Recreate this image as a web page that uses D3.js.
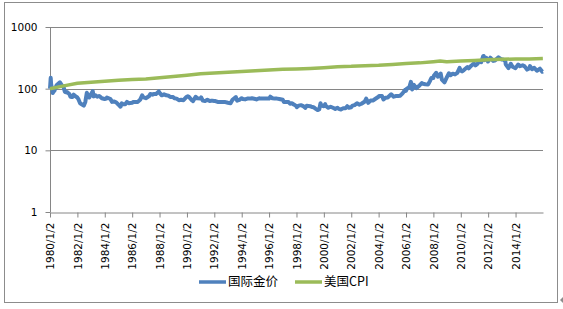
<!DOCTYPE html>
<html>
<head>
<meta charset="utf-8">
<script src="https://cdn.jsdelivr.net/npm/d3@7"></script>
<style>
  body { margin: 0; background: #fff; }
  .chart text { font-family: "DejaVu Sans", sans-serif; }
</style>
</head>
<body>
<div class="chart"></div>
<script>
// gold price index (1980/1/2 = 100)
var gold = [
  ["1980-01-02",100],["1980-01-21",150],["1980-02-01",118],["1980-03-18",85],["1980-04-01",89],["1980-05-01",93],
  ["1980-06-01",105],["1980-07-01",115],["1980-09-22",127],["1980-10-15",120],["1980-12-01",110],["1980-12-31",105],
  ["1981-02-01",89],["1981-03-15",87],["1981-04-01",88],["1981-06-01",82],["1981-07-01",74],["1981-08-15",73],
  ["1981-09-25",80],["1981-11-01",76],["1981-12-31",72],
  ["1982-02-01",67],["1982-03-15",58],["1982-06-21",53],["1982-08-01",61],["1982-09-10",86],["1982-10-15",76],
  ["1982-11-15",72],["1982-12-31",81],
  ["1983-02-15",91],["1983-03-10",75],["1983-05-01",78],["1983-06-15",74],["1983-08-01",76],["1983-09-01",74],
  ["1983-10-15",70],["1983-12-31",68],
  ["1984-02-15",69],["1984-03-01",72],["1984-06-01",68],["1984-07-15",61],["1984-09-01",62],["1984-11-01",60],
  ["1984-12-31",55],
  ["1985-02-25",51],["1985-04-01",58],["1985-05-01",56],["1985-07-01",56],["1985-08-15",61],["1985-10-01",58],
  ["1985-12-31",59],
  ["1986-02-01",61],["1986-04-01",61],["1986-06-01",61],["1986-08-01",66],["1986-09-25",78],["1986-11-01",72],
  ["1986-12-31",70],
  ["1987-02-01",72],["1987-04-01",76],["1987-05-01",82],["1987-07-01",80],["1987-08-15",82],["1987-10-01",82],
  ["1987-12-14",90],
  ["1988-01-15",84],["1988-03-01",78],["1988-05-01",81],["1988-07-01",78],["1988-09-01",77],["1988-10-15",73],
  ["1988-12-31",73],
  ["1989-02-01",70],["1989-04-01",69],["1989-06-01",65],["1989-08-01",66],["1989-10-01",65],["1989-12-15",73],
  ["1990-01-25",75],["1990-03-01",73],["1990-05-01",66],["1990-06-15",63],["1990-08-22",74],["1990-10-01",70],
  ["1990-12-31",69],
  ["1991-01-17",72],["1991-03-01",64],["1991-05-01",63],["1991-07-01",66],["1991-09-01",63],["1991-11-01",64],
  ["1991-12-31",63],
  ["1992-02-01",63],["1992-04-01",61],["1992-06-01",61],["1992-08-01",61],["1992-10-01",61],["1992-12-31",59],
  ["1993-03-10",58],["1993-05-01",66],["1993-07-30",73],["1993-09-01",64],["1993-11-01",66],["1993-12-31",70],
  ["1994-02-01",68],["1994-04-01",67],["1994-06-01",69],["1994-08-01",69],["1994-10-01",70],["1994-12-31",68],
  ["1995-02-01",67],["1995-04-15",70],["1995-06-01",69],["1995-08-01",69],["1995-10-01",69],["1995-12-31",69],
  ["1996-02-02",74],["1996-04-01",70],["1996-06-01",69],["1996-08-01",69],["1996-10-01",68],["1996-12-31",66],
  ["1997-02-01",61],["1997-04-01",61],["1997-06-01",61],["1997-07-15",57],["1997-09-01",58],["1997-11-01",55],
  ["1997-12-31",52],
  ["1998-01-09",50],["1998-03-01",53],["1998-05-01",54],["1998-07-01",52],["1998-08-28",49],["1998-10-01",53],
  ["1998-12-31",52],
  ["1999-02-01",51],["1999-04-01",50],["1999-06-01",47],["1999-07-20",45],["1999-09-01",46],["1999-10-05",58],
  ["1999-11-01",53],["1999-12-31",52],
  ["2000-02-07",56],["2000-03-01",52],["2000-05-01",49],["2000-07-01",51],["2000-09-01",49],["2000-11-01",47],
  ["2000-12-31",49],
  ["2001-02-01",47],["2001-04-02",46],["2001-06-01",48],["2001-08-01",48],["2001-09-17",52],["2001-11-01",49],
  ["2001-12-31",50],
  ["2002-02-05",53],["2002-04-01",54],["2002-06-04",58],["2002-08-01",55],["2002-10-01",57],["2002-12-31",62],
  ["2003-02-05",69],["2003-04-01",59],["2003-06-01",64],["2003-08-01",64],["2003-10-01",68],["2003-12-31",74],
  ["2004-01-15",76],["2004-04-01",76],["2004-05-10",67],["2004-07-01",71],["2004-09-01",72],["2004-12-01",81],
  ["2004-12-31",78],
  ["2005-02-08",74],["2005-04-01",76],["2005-06-01",76],["2005-08-01",77],["2005-10-01",84],["2005-12-12",96],
  ["2005-12-30",92],
  ["2006-02-01",101],["2006-04-01",106],["2006-05-12",129],["2006-06-14",97],["2006-08-01",115],["2006-10-05",102],
  ["2006-12-29",113],
  ["2007-02-26",123],["2007-04-01",120],["2007-06-01",118],["2007-08-16",117],["2007-10-01",133],["2007-11-08",149],
  ["2007-12-31",149],
  ["2008-01-15",162],["2008-03-17",181],["2008-05-01",156],["2008-07-15",176],["2008-08-15",140],["2008-10-24",127],
  ["2008-12-31",155],
  ["2009-02-20",178],["2009-04-01",165],["2009-06-01",175],["2009-08-01",170],["2009-10-01",180],["2009-12-02",217],
  ["2009-12-31",197],
  ["2010-02-05",190],["2010-04-01",202],["2010-06-28",224],["2010-08-01",213],["2010-10-01",234],["2010-12-07",254],
  ["2010-12-31",252],
  ["2011-01-28",238],["2011-04-01",257],["2011-05-02",280],["2011-07-01",268],["2011-08-22",337],["2011-09-05",339],
  ["2011-09-26",290],["2011-11-08",317],["2011-12-29",276],
  ["2012-02-28",318],["2012-05-16",282],["2012-07-01",286],["2012-10-04",322],["2012-12-31",296],
  ["2013-02-01",298],["2013-04-01",285],["2013-04-15",248],["2013-06-27",215],["2013-08-28",253],["2013-10-15",227],
  ["2013-12-31",215],
  ["2014-03-14",246],["2014-05-01",232],["2014-07-10",239],["2014-09-01",230],["2014-11-05",204],["2014-12-31",213],
  ["2015-01-22",232],["2015-03-17",207],["2015-05-15",218],["2015-07-24",195],["2015-10-14",211],["2015-12-17",188],
  ["2015-12-31",190]
];

// US CPI index (1980/1/2 = 100)
var cpi = [
  ["1980-01-02",100],["1981-01-02",111],["1982-01-02",122],["1983-01-02",127],["1984-01-02",132],["1985-01-02",137],
  ["1986-01-02",141],["1987-01-02",144],["1988-01-02",150],["1989-01-02",157],["1990-01-02",165],["1991-01-02",175],
  ["1992-01-02",179],["1993-01-02",185],["1994-01-02",190],["1995-01-02",195],["1996-01-02",200],["1997-01-02",206],
  ["1998-01-02",209],["1999-01-02",213],["2000-01-02",219],["2001-01-02",227],["2002-01-02",230],["2003-01-02",236],
  ["2004-01-02",240],["2005-01-02",247],["2006-01-02",257],["2007-01-02",262],["2008-01-02",273],["2008-07-01",280],
  ["2008-12-15",273],["2009-01-02",274],["2010-01-02",281],["2011-01-02",286],["2012-01-02",294],["2013-01-02",299],
  ["2014-01-02",304],["2015-01-02",303],["2015-12-31",308]
];

var yTicks = [1, 10, 100, 1000];
var tickYears = d3.range(1980, 2015, 2);
var seriesNames = ["国际金价", "美国CPI"];
var seriesColors = ["#4f81bd", "#9bbb59"];

var svgWidth = 563;
var svgHeight = 309;
var margin = {top: 27, right: 20, bottom: 97, left: 50};
var width = svgWidth - margin.left - margin.right;
var height = svgHeight - margin.top - margin.bottom;

var parse = d3.timeParse("%Y-%m-%d");

var svg = d3.select(".chart")
    .append("svg")
    .attr("width", svgWidth)
    .attr("height", svgHeight);

// outer frame
svg.append("rect")
    .attr("x", 4.5).attr("y", 2.5)
    .attr("width", 553).attr("height", 300)
    .attr("fill", "#fff")
    .attr("stroke", "#8c8c8c");
// little resize marker at the corner
svg.append("path")
    .attr("d", "M563,297L560,300L563,303Z")
    .attr("fill", "#8c8c8c");

var chart = svg.append("g")
    .attr("transform", "translate(" + margin.left + "," + margin.top + ")");

var x = d3.scaleTime()
    .domain([parse("1980-01-02"), parse("2016-01-04")])
    .range([0, width]);
var y = d3.scaleLog()
    .domain([1, 1000])
    .range([height, 0]);

// gridlines
chart.append("g")
    .selectAll("line")
    .data(yTicks.slice(1))
    .enter()
    .append("line")
    .attr("x1", 0).attr("x2", width)
    .attr("y1", function(d) { return Math.round(y(d)) + 0.5; })
    .attr("y2", function(d) { return Math.round(y(d)) + 0.5; })
    .attr("stroke", "#868686");

// y axis
var leftAxis = d3.axisLeft(y).tickValues(yTicks).tickFormat(d3.format("d")).tickSize(5).tickPadding(8);
var gy = chart.append("g").attr("transform", "translate(0.5,0)").call(leftAxis);
gy.select(".domain").attr("stroke", "#868686").attr("d", "M0," + height + "V0");
gy.selectAll(".tick line").attr("stroke", "#868686");
gy.selectAll(".tick text").attr("fill", "#000").style("font-size", "10.5px");

// x axis
var bottomAxis = d3.axisBottom(x)
    .tickValues(tickYears.map(function(yr) { return new Date(yr, 0, 2); }))
    .tickFormat(d3.timeFormat("%Y/%-m/%-d"))
    .tickSize(5)
    .tickSizeOuter(0);
var gx = chart.append("g")
    .attr("transform", "translate(0," + (Math.round(height) + 0.5) + ")")
    .call(bottomAxis);
gx.select(".domain").attr("stroke", "#868686");
gx.selectAll(".tick line").attr("stroke", "#868686");
gx.selectAll(".tick text")
    .attr("fill", "#000")
    .style("font-size", "10.5px")
    .attr("transform", "rotate(-90)")
    .attr("text-anchor", "end")
    .attr("x", -10)
    .attr("y", 0)
    .attr("dy", "0.35em");

// lines
var line = d3.line()
    .x(function(d) { return x(parse(d[0])); })
    .y(function(d) { return y(d[1]); });

[gold, cpi].forEach(function(series, i) {
    chart.append("path")
        .datum(series)
        .attr("fill", "none")
        .attr("stroke", seriesColors[i])
        .attr("stroke-width", i === 0 ? 4 : 3.5)
        .attr("stroke-linejoin", "round")
        .attr("d", line);
});

// legend
var legendX = [199, 295];
var legend = svg.append("g");
seriesNames.forEach(function(name, i) {
    legend.append("line")
        .attr("x1", legendX[i]).attr("x2", legendX[i] + 27)
        .attr("y1", 282).attr("y2", 282)
        .attr("stroke", seriesColors[i])
        .attr("stroke-width", 3.5);
    legend.append("text")
        .attr("x", legendX[i] + 29)
        .attr("y", 282)
        .attr("dy", "0.35em")
        .style("font-family", "'Noto Sans CJK SC', sans-serif")
        .style("font-size", "12.5px")
        .text(name);
});
</script>
</body>
</html>
